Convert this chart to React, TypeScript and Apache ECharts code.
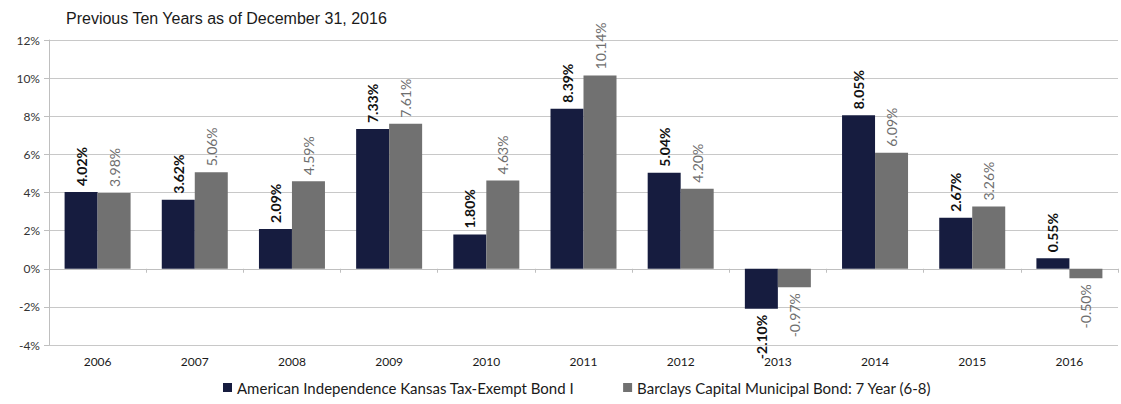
import React, { useEffect, useRef } from "react";
import * as echarts from "echarts";

const years = ["2006", "2007", "2008", "2009", "2010", "2011", "2012", "2013", "2014", "2015", "2016"];
const fundValues = [4.02, 3.62, 2.09, 7.33, 1.8, 8.39, 5.04, -2.1, 8.05, 2.67, 0.55];
const indexValues = [3.98, 5.06, 4.59, 7.61, 4.63, 10.14, 4.2, -0.97, 6.09, 3.26, -0.5];
const seriesNames = [
  "American Independence Kansas Tax-Exempt Bond I",
  "Barclays Capital Municipal Bond: 7 Year (6-8)",
];
const titleText = "Previous Ten Years as of December 31, 2016";

const FONT = "Lato, 'Open Sans', sans-serif";

function makeData(values: number[], bold: boolean, color: string) {
  return values.map((v) => ({
    value: v,
    label: {
      show: true,
      position: v >= 0 ? "top" : "bottom",
      rotate: 90,
      align: v >= 0 ? "left" : "right",
      verticalAlign: "middle",
      distance: 6,
      formatter: v.toFixed(2) + "%",
      fontFamily: FONT,
      fontSize: 14,
      fontWeight: bold ? "bold" : "normal",
      color,
    },
  }));
}

export default function App() {
  const ref = useRef<HTMLDivElement>(null);
  useEffect(() => {
    const chart = echarts.init(ref.current!, null, { renderer: "svg" });
    chart.setOption({
      animation: false,
      title: {
        text: titleText,
        left: 61,
        top: 5,
        textStyle: { fontFamily: "'Liberation Sans', Arial, sans-serif", fontSize: 16, fontWeight: "normal", color: "#1a1a1a" },
      },
      legend: {
        bottom: 4,
        left: 218,
        itemWidth: 9,
        itemHeight: 9,
        itemGap: 49,
        icon: "rect",
        textStyle: { fontFamily: FONT, fontSize: 15, color: "#1a1a1a" },
        data: seriesNames,
      },
      grid: { left: 49, right: 3, top: 40, bottom: 59, containLabel: false },
      xAxis: [
        {
          type: "category",
          data: years,
          position: "bottom",
          axisLine: { show: false, onZero: false },
          axisTick: { show: false },
          axisLabel: { fontFamily: FONT, fontSize: 12, color: "#1a1a1a", margin: 10 },
        },
        {
          type: "category",
          data: years,
          position: "bottom",
          axisLine: { show: true, onZero: true, lineStyle: { color: "#bfbfbf", width: 1 } },
          axisTick: { show: true, length: 4, alignWithLabel: false, lineStyle: { color: "#bfbfbf" } },
          axisLabel: { show: false },
        },
      ],
      yAxis: {
        type: "value",
        min: -4,
        max: 12,
        interval: 2,
        axisLine: { show: true, lineStyle: { color: "#bfbfbf" } },
        axisTick: { show: true, length: 5, lineStyle: { color: "#bfbfbf" } },
        splitLine: { show: true, lineStyle: { color: "#c8c8c8", width: 1 } },
        axisLabel: {
          formatter: (v: number) => v + "%",
          fontFamily: FONT,
          fontSize: 12,
          color: "#333",
          margin: 9,
        },
      },
      series: [
        {
          name: seriesNames[0],
          type: "bar",
          xAxisIndex: 0,
          barWidth: 33,
          barGap: "0%",
          itemStyle: { color: "#161c3f" },
          data: makeData(fundValues, true, "#111"),
        },
        {
          name: seriesNames[1],
          type: "bar",
          xAxisIndex: 0,
          barWidth: 33,
          barGap: "0%",
          itemStyle: { color: "#717171" },
          data: makeData(indexValues, false, "#6e6e6e"),
        },
      ],
    });
    return () => chart.dispose();
  }, []);
  return <div ref={ref} style={{ width: 1121, height: 404, position: "absolute", left: 0, top: 0 }} />;
}
